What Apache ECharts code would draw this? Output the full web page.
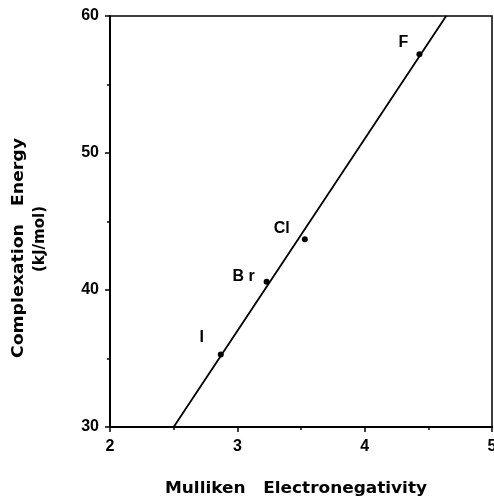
<!DOCTYPE html>
<html>
<head>
<meta charset="utf-8">
<style>
  html, body { margin: 0; padding: 0; background: #fff; }
  #chart { width: 494px; height: 501px; }
</style>
<script src="https://cdn.jsdelivr.net/npm/echarts@6/dist/echarts.min.js"></script>
</head>
<body>
<div id="chart"></div>
<script>
// Halogen complexation energies vs. Mulliken electronegativity
const halogens = ['I', 'Br', 'Cl', 'F'];
const electronegativity = [2.87, 3.23, 3.53, 4.43];
const complexationEnergy = [35.3, 40.6, 43.7, 57.2];

// Least-squares fit line end points
const fitX = [2.5, 4.64];
const fitY = [30, 60];

const xTicks = [2, 3, 4, 5];
const yTicks = [30, 40, 50, 60];

const xTitle = 'Mulliken   Electronegativity';
const yTitle = 'Complexation   Energy';
const yUnit = '(kJ/mol)';

// Label placement relative to each point (px)
const labelShift = { I: [-19, -17], Br: [-23, -5], Cl: [-23, -11], F: [-16, -12] };

const font = '"Liberation Sans", Arial, Helvetica, sans-serif';
const titleFont = '900 16px "DejaVu Sans", "Liberation Sans", Arial, sans-serif';

// Stretch the wide-set axis titles to their drawn lengths
const ctx = document.createElement('canvas').getContext('2d');
function stretch(text, length) {
  ctx.font = titleFont;
  return length / ctx.measureText(text).width;
}

const chart = echarts.init(document.getElementById('chart'), null, { renderer: 'canvas' });

const points = halogens.map((h, i) => ({
  name: h,
  value: [electronegativity[i], complexationEnergy[i]],
  label: { offset: labelShift[h] }
}));

const tickLabel = {
  color: '#000', fontFamily: font, fontWeight: 'bold', fontSize: 16,
  showMinLabel: true, showMaxLabel: true
};

chart.setOption({
  animation: false,
  backgroundColor: '#fff',
  grid: {
    left: 110, right: 2, top: 16, bottom: 74,
    outerBoundsMode: 'none', containLabel: false,
    show: true, borderColor: '#000', borderWidth: 1.5, backgroundColor: 'transparent'
  },
  xAxis: {
    type: 'value',
    min: xTicks[0], max: xTicks[xTicks.length - 1], interval: 1,
    axisLine: { show: true, onZero: false, lineStyle: { color: '#000', width: 2 } },
    axisTick: { show: true, length: 5, lineStyle: { color: '#000', width: 1.5 } },
    minorTick: { show: true, splitNumber: 2, length: 3, lineStyle: { color: '#000', width: 1.5 } },
    splitLine: { show: false },
    axisLabel: Object.assign({ margin: 12 }, tickLabel)
  },
  yAxis: {
    type: 'value',
    min: yTicks[0], max: yTicks[yTicks.length - 1], interval: 10,
    axisLine: { show: true, onZero: false, lineStyle: { color: '#000', width: 2 } },
    axisTick: { show: true, length: 5, lineStyle: { color: '#000', width: 1.5 } },
    minorTick: { show: true, splitNumber: 2, length: 3, lineStyle: { color: '#000', width: 1.5 } },
    splitLine: { show: false },
    axisLabel: Object.assign({ margin: 11 }, tickLabel)
  },
  series: [
    {
      type: 'line',
      data: fitX.map((x, i) => [x, fitY[i]]),
      showSymbol: false,
      lineStyle: { color: '#000', width: 1.8 },
      z: 2
    },
    {
      type: 'scatter',
      data: points,
      symbol: 'circle',
      symbolSize: 6,
      itemStyle: { color: '#000', opacity: 1 },
      label: {
        show: true,
        position: 'inside',
        formatter: p => p.name.split('').join(p.name === 'Br' ? ' ' : ''),
        color: '#000', textBorderWidth: 0, fontFamily: font, fontWeight: 'bold', fontSize: 16
      },
      z: 3
    }
  ],
  graphic: [
    {
      type: 'text', x: 296, y: 489, scaleX: stretch(xTitle, 262),
      style: {
        text: xTitle, font: titleFont, fill: '#000',
        align: 'center', verticalAlign: 'middle'
      }
    },
    {
      type: 'text', x: 19, y: 248, rotation: Math.PI / 2, scaleX: stretch(yTitle, 220),
      style: {
        text: yTitle, font: titleFont, fill: '#000',
        align: 'center', verticalAlign: 'middle'
      }
    },
    {
      type: 'text', x: 40, y: 239, rotation: Math.PI / 2, scaleX: stretch(yUnit, 66),
      style: {
        text: yUnit, font: titleFont, fill: '#000',
        align: 'center', verticalAlign: 'middle'
      }
    }
  ]
});
</script>
</body>
</html>
